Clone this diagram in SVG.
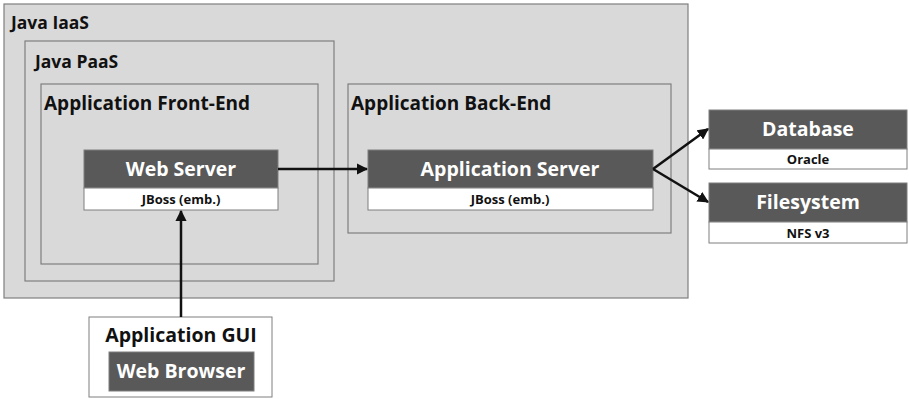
<svg xmlns="http://www.w3.org/2000/svg" width="909" height="399" viewBox="0 0 909 399">
<style>
text{font-family:"Open Sans","Liberation Sans",sans-serif;font-weight:bold}
.cont{fill:#d9d9d9;stroke:#7f7f7f;stroke-width:1.2}
.title{font-size:17.5px;fill:#111}
.big{font-size:19px}
.hdr{fill:#595959;stroke:#7f7f7f;stroke-width:1}
.sub{fill:#fff;stroke:#7f7f7f;stroke-width:1}
.ht{font-size:19.5px;fill:#fff;text-anchor:middle}
.st{font-size:13px;fill:#111;text-anchor:middle}
.conn{stroke:#111;stroke-width:2.5;fill:none;marker-end:url(#ah)}
</style>
<defs>
<marker id="ah" viewBox="0 0 10 10" refX="9" refY="5" markerWidth="4.5" markerHeight="4.5" orient="auto" markerUnits="strokeWidth">
<path d="M0,0 L10,5 L0,10 z" fill="#111"/>
</marker>
</defs>
<rect width="909" height="399" fill="#fff"/>
<g id="java-iaas">
<rect class="cont" x="4" y="4" width="684" height="294"/>
<text class="title" x="11" y="29">Java IaaS</text>
</g>
<g id="java-paas">
<rect class="cont" x="25" y="41" width="309" height="240"/>
<text class="title" x="35" y="68">Java PaaS</text>
</g>
<g id="front-end">
<rect class="cont" x="41" y="84" width="277" height="180"/>
<text class="title big" x="44" y="110">Application Front-End</text>
</g>
<g id="back-end">
<rect class="cont" x="348" y="84" width="323" height="149"/>
<text class="title big" x="351" y="110">Application Back-End</text>
</g>
<g id="web-server">
<rect class="hdr" x="84" y="150" width="194" height="38"/>
<rect class="sub" x="84" y="188" width="194" height="22"/>
<text class="ht" x="181" y="176">Web Server</text>
<text class="st" x="181" y="204">JBoss (emb.)</text>
</g>
<g id="app-server">
<rect class="hdr" x="368" y="150" width="285" height="38"/>
<rect class="sub" x="368" y="188" width="285" height="22"/>
<text class="ht" x="510" y="176">Application Server</text>
<text class="st" x="510" y="204">JBoss (emb.)</text>
</g>
<g id="database">
<rect class="hdr" x="709" y="110" width="198" height="39"/>
<rect class="sub" x="709" y="149" width="198" height="20"/>
<text class="ht" x="808" y="136">Database</text>
<text class="st" x="808" y="164">Oracle</text>
</g>
<g id="filesystem">
<rect class="hdr" x="709" y="183" width="198" height="39"/>
<rect class="sub" x="709" y="222" width="198" height="21"/>
<text class="ht" x="808" y="209">Filesystem</text>
<text class="st" x="808" y="238">NFS v3</text>
</g>
<g id="app-gui">
<rect class="sub" x="89" y="317" width="183" height="80"/>
<text class="title" x="181" y="342" text-anchor="middle" style="font-size:19.5px">Application GUI</text>
<rect class="hdr" x="109" y="352" width="145" height="39"/>
<text class="ht" x="181" y="378">Web Browser</text>
</g>
<g id="connectors">
<path class="conn" d="M278,169 L367,169"/>
<path class="conn" d="M653,169 L708,129"/>
<path class="conn" d="M653,169 L708,202"/>
<path class="conn" d="M181,317 L181,211"/>
</g>
</svg>
